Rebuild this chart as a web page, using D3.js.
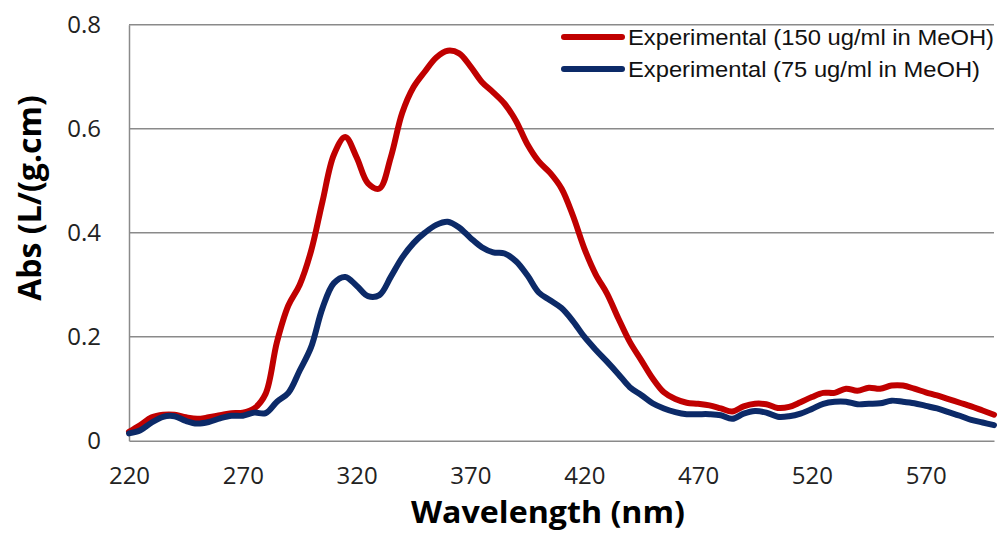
<!DOCTYPE html>
<html lang="en">
<head>
    <meta charset="UTF-8">
    <title>Absorbance spectrum</title>
    <style>
        body { margin: 0; background: #fff; }
        svg { display: block; }
        .tick text { font-family: "Open Sans", sans-serif; font-size: 24px; fill: #222; }
    </style>
</head>
<body>
    <div id="chart"></div>
    <script src="https://cdnjs.cloudflare.com/ajax/libs/d3/7.8.5/d3.min.js"></script>
    <script>
        // wavelengths (nm) and absorbance
        const wavelengths = d3.range(220, 601, 5);
        const abs150 = [0.017, 0.030, 0.045, 0.050, 0.050, 0.045, 0.042, 0.045, 0.049, 0.053,
            0.054, 0.062, 0.090, 0.190, 0.260, 0.300, 0.365, 0.460, 0.550, 0.584,
            0.545, 0.495, 0.485, 0.545, 0.630, 0.680, 0.710, 0.737, 0.750, 0.745,
            0.720, 0.690, 0.670, 0.648, 0.615, 0.570, 0.537, 0.515, 0.485, 0.433,
            0.370, 0.320, 0.283, 0.235, 0.190, 0.155, 0.120, 0.093, 0.080, 0.073,
            0.071, 0.068, 0.062, 0.056, 0.066, 0.071, 0.070, 0.063, 0.065, 0.074,
            0.084, 0.092, 0.092, 0.100, 0.096, 0.102, 0.100, 0.106, 0.106, 0.100,
            0.093, 0.087, 0.080, 0.073, 0.066, 0.058, 0.050];
        const abs75 = [0.014, 0.020, 0.035, 0.046, 0.047, 0.038, 0.033, 0.036, 0.043, 0.048,
            0.048, 0.054, 0.053, 0.075, 0.092, 0.135, 0.180, 0.255, 0.303, 0.315,
            0.298, 0.278, 0.280, 0.315, 0.352, 0.380, 0.400, 0.415, 0.421, 0.410,
            0.390, 0.372, 0.362, 0.360, 0.345, 0.318, 0.285, 0.270, 0.255, 0.230,
            0.200, 0.175, 0.152, 0.128, 0.103, 0.088, 0.072, 0.062, 0.055, 0.051,
            0.051, 0.051, 0.049, 0.042, 0.052, 0.057, 0.054, 0.046, 0.047, 0.052,
            0.061, 0.071, 0.075, 0.075, 0.070, 0.071, 0.072, 0.077, 0.075, 0.072,
            0.067, 0.062, 0.055, 0.048, 0.040, 0.035, 0.030];
        const xTicks = [220, 270, 320, 370, 420, 470, 520, 570];
        const yTicks = [0, 0.2, 0.4, 0.6, 0.8];
        const seriesNames = ["Experimental (150 ug/ml in MeOH)", "Experimental (75 ug/ml in MeOH)"];
        const seriesColors = ["#c00000", "#0c2a68"];

        const width = 999, height = 533;
        const margin = { top: 24.7, right: 5, bottom: 92.3, left: 129 };

        const svg = d3.select("#chart").append("svg")
            .attr("width", width)
            .attr("height", height);

        const x = d3.scaleLinear().domain([220, 600]).range([margin.left, width - margin.right]);
        const y = d3.scaleLinear().domain([0, 0.8]).range([height - margin.bottom, margin.top]);

        // gridlines
        svg.append("g")
            .selectAll("line")
            .data(yTicks.slice(1))
            .join("line")
            .attr("x1", x(220)).attr("x2", x(600))
            .attr("y1", d => y(d)).attr("y2", d => y(d))
            .attr("stroke", "#8a8a8a")
            .attr("stroke-width", 1.5);

        // axes
        const yAxis = svg.append("g")
            .attr("transform", `translate(${margin.left},0)`)
            .call(d3.axisLeft(y).tickValues(yTicks).tickSize(0).tickPadding(28)
                .tickFormat(d => d === 0 ? "0" : d3.format(".1f")(d)));
        yAxis.select(".domain").attr("stroke", "#8a8a8a").attr("stroke-width", 1.5);

        const xAxis = svg.append("g")
            .attr("transform", `translate(0,${y(0)})`)
            .call(d3.axisBottom(x).tickValues(xTicks).tickSize(0).tickPadding(26));
        xAxis.select(".domain").attr("stroke", "#8a8a8a").attr("stroke-width", 1.5);

        // lines
        const line = d3.line()
            .x((d, i) => x(wavelengths[i]))
            .y(d => y(d))
            .curve(d3.curveCatmullRom);

        [abs150, abs75].forEach((vals, k) => {
            svg.append("path")
                .datum(vals)
                .attr("d", line)
                .attr("fill", "none")
                .attr("stroke", seriesColors[k])
                .attr("stroke-width", 6)
                .attr("stroke-linejoin", "round")
                .attr("stroke-linecap", "round");
        });

        // legend
        const legend = svg.append("g").attr("transform", "translate(564,37)");
        seriesNames.forEach((name, k) => {
            const g = legend.append("g").attr("transform", `translate(0,${k * 32})`);
            g.append("line")
                .attr("x1", 0).attr("x2", 58)
                .attr("stroke", seriesColors[k])
                .attr("stroke-width", 6)
                .attr("stroke-linecap", "round");
            g.append("text")
                .attr("x", 64).attr("dy", "0.35em")
                .attr("font-family", "Liberation Sans, Arial, sans-serif")
                .attr("font-size", 22)
                .attr("textLength", k === 0 ? 366 : 352)
                .attr("lengthAdjust", "spacingAndGlyphs")
                .attr("fill", "#111")
                .text(name);
        });

        // axis titles
        svg.append("text")
            .attr("x", 548).attr("y", 523)
            .attr("text-anchor", "middle")
            .attr("font-family", "Open Sans, sans-serif")
            .attr("font-weight", "bold")
            .attr("font-size", 30)
            .attr("textLength", 274)
            .attr("lengthAdjust", "spacingAndGlyphs")
            .text("Wavelength (nm)");

        svg.append("text")
            .attr("transform", "translate(41,198) rotate(-90)")
            .attr("text-anchor", "middle")
            .attr("font-family", "Open Sans, sans-serif")
            .attr("font-weight", "bold")
            .attr("font-size", 32)
            .text("Abs (L/(g.cm)");
    </script>
</body>
</html>
